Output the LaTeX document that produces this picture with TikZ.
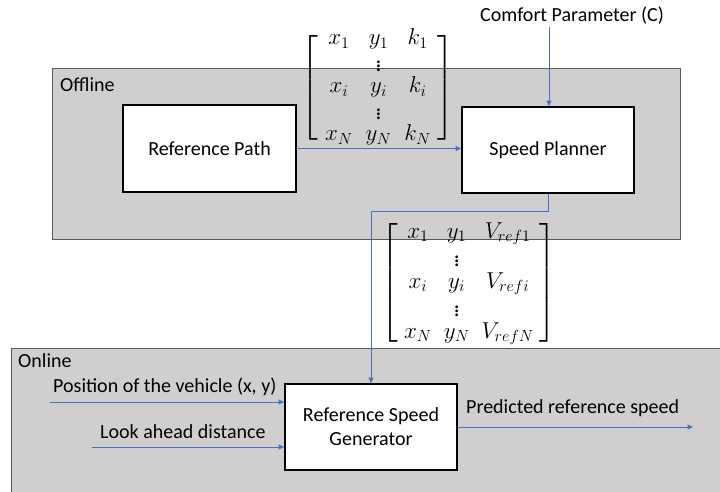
\RequirePackage{fix-cm}
\documentclass[tikz,border=0pt]{standalone}
\usepackage{amsmath}
\usepackage{fontspec}
\setmainfont{Carlito}
\usetikzlibrary{arrows.meta}
\definecolor{regfill}{HTML}{D0CECE}
\definecolor{regline}{HTML}{595959}
\definecolor{arrblue}{HTML}{4472C4}
\newcommand{\lowdots}{\raisebox{-3pt}{$\vdots$}}
\begin{document}
\begin{tikzpicture}[x=1pt,y=-1pt,
  font=\fontsize{20}{24}\selectfont,
  region/.style={draw=regline, fill=regfill, line width=1.2pt, rectangle, inner sep=0pt, anchor=north west},
  blk/.style={draw=black, fill=white, line width=1.8pt, rectangle, align=center, inner sep=0pt},
  txt/.style={inner sep=0pt, anchor=base west},
  mat/.style={inner sep=0pt, font=\fontsize{23}{24}\selectfont},
  matb/.style={inner sep=0pt, font=\fontsize{23}{25}\selectfont},
  arr/.style={draw=arrblue, line width=1pt, -{Triangle[length=5.5pt,width=5pt]}}]
\useasboundingbox (0,0) rectangle (720,492);
\clip (0,0) rectangle (720,492);

% regions
\node[region, minimum width=740pt, minimum height=170pt] (online) at (11,348) {};
\node[region, minimum width=628pt, minimum height=171pt] (offline) at (52,68) {};
\node[txt] (offlbl) at (60,92) {Offline};
\node[txt] (onlbl) at (18,367) {Online};

% blocks
\node[blk, minimum width=173pt, minimum height=87pt] (rp) at (209.5,148.5) {Reference Path};
\node[blk, minimum width=172pt, minimum height=86pt] (sp) at (548,150) {Speed Planner};
\node[blk, minimum width=172pt, minimum height=86pt] (rsg) at (371,427) {Reference Speed\\Generator};

% matrices
\node[mat] (m1) at (378,88) {$\delimiterfactor=850 \delimitershortfall=16pt
\setlength{\arraycolsep}{6.5pt}\left[\begin{array}{ccc}
 x_1 & y_1 & k_1\\
  & \lowdots & \\
 x_i & y_i & k_i\\
  & \lowdots & \\
 x_N & y_N & k_N
\end{array}\right]$};
\node[matb] (m2) at (469,283) {$\delimiterfactor=850 \delimitershortfall=14pt
\setlength{\arraycolsep}{6pt}\left[\begin{array}{ccc}
 x_1 & y_1 & V_{ref1}\\
  & \lowdots & \\
 x_i & y_i & V_{refi}\\
  & \lowdots & \\
 x_N & y_N & V_{refN}
\end{array}\right]$};

% texts
\node[txt] (comfort) at (480,22) {Comfort Parameter (C)};
\node[txt] (postxt) at (53,392) {Position of the vehicle (x, y)};
\node[txt] (looktxt) at (100,438) {Look ahead distance};
\node[txt] (predtxt) at (466,413) {Predicted reference speed};

% connectors
\coordinate (cin) at (549,27);
\coordinate (bend) at (0,211);
\coordinate (pin) at (50,402);
\coordinate (lin) at (92,447);
\coordinate (sout) at (693,427);

\draw[arr] (rp.east) -- (rp.east -| sp.west);
\draw[arr] (cin) -- (cin |- sp.north);
\draw[arr] (sp.south) -- (sp.south |- bend) -| (rsg.north);
\draw[arr] (pin) -- (pin -| rsg.west);
\draw[arr] (lin) -- (lin -| rsg.west);
\draw[arr] (rsg.east) -- (sout);
\end{tikzpicture}
\end{document}
